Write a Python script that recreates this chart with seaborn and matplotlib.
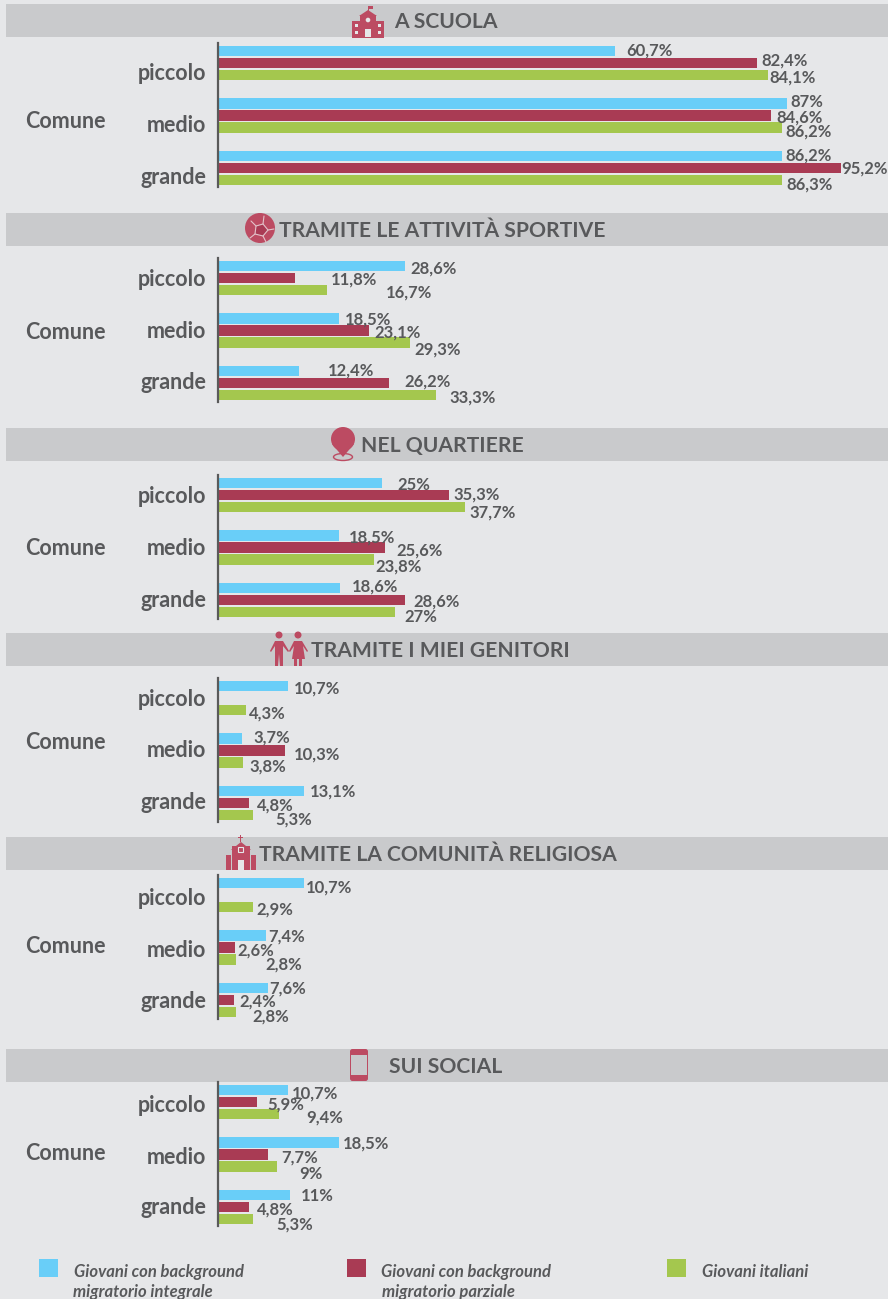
import pandas as pd
import matplotlib
matplotlib.use('Agg')
import matplotlib.pyplot as plt
from matplotlib.patches import Rectangle, Circle, Polygon, Ellipse, FancyBboxPatch
import seaborn as sns

sns.set_theme(style='white')
plt.rcParams['font.family'] = ['Lato', 'DejaVu Sans']

sizes = ['piccolo', 'medio', 'grande']
groups = ['integrale', 'parziale', 'italiani']
colors = ['#69CEF8', '#A93B54', '#A4C74E']
titles = ['A SCUOLA', 'TRAMITE LE ATTIVITÀ SPORTIVE', 'NEL QUARTIERE',
          'TRAMITE I MIEI GENITORI', 'TRAMITE LA COMUNITÀ RELIGIOSA', 'SUI SOCIAL']

# bar lengths
scuola_int = [60.7, 87, 86.2]
scuola_par = [82.4, 84.6, 95.2]
scuola_ita = [84.1, 86.2, 86.3]
sport_int = [28.6, 18.5, 12.4]
sport_par = [11.8, 23.1, 26.2]
sport_ita = [16.7, 29.3, 33.3]
quart_int = [25, 18.5, 18.6]
quart_par = [35.3, 25.6, 28.6]
quart_ita = [37.7, 23.8, 27]
genit_int = [10.7, 3.7, 13.1]
genit_par = [None, 10.3, 4.8]
genit_ita = [4.3, 3.8, 5.3]
relig_int = [13.1, 7.4, 7.6]
relig_par = [None, 2.6, 2.4]
relig_ita = [5.3, 2.8, 2.8]
social_int = [10.7, 18.5, 11]
social_par = [5.9, 7.7, 4.8]
social_ita = [9.4, 9, 5.3]

# value labels, size by size
scuola_lab = ['60,7%', '82,4%', '84,1%', '87%', '84,6%', '86,2%', '86,2%', '95,2%', '86,3%']
sport_lab = ['28,6%', '11,8%', '16,7%', '18,5%', '23,1%', '29,3%', '12,4%', '26,2%', '33,3%']
quart_lab = ['25%', '35,3%', '37,7%', '18,5%', '25,6%', '23,8%', '18,6%', '28,6%', '27%']
genit_lab = ['10,7%', None, '4,3%', '3,7%', '10,3%', '3,8%', '13,1%', '4,8%', '5,3%']
relig_lab = ['10,7%', None, '2,9%', '7,4%', '2,6%', '2,8%', '7,6%', '2,4%', '2,8%']
social_lab = ['10,7%', '5,9%', '9,4%', '18,5%', '7,7%', '9%', '11%', '4,8%', '5,3%']

panels = [
    (scuola_int, scuola_par, scuola_ita, scuola_lab),
    (sport_int, sport_par, sport_ita, sport_lab),
    (quart_int, quart_par, quart_ita, quart_lab),
    (genit_int, genit_par, genit_ita, genit_lab),
    (relig_int, relig_par, relig_ita, relig_lab),
    (social_int, social_par, social_ita, social_lab),
]

# label offsets from the bar end, in pixels (right, down)
label_dx = [[11, 4, 1, 3, 5, 4, 4, 1, 4],
            [5, 36, 59, 6, 5, 5, 29, 15, 14],
            [16, 5, 5, 10, 11, 2, 12, 8, 10],
            [6, 0, 3, 11, 8, 7, 6, 8, 23],
            [2, 0, 4, 2, 2, 29, 2, 6, 16],
            [4, 11, 27, 4, 13, 22, 11, 8, 24]]
label_dy = [[0, -2, 2, -1, 2, 4, 0, 0, 4],
            [3, 2, 2, 1, 2, 7, 0, -2, 2],
            [2, 0, 5, 2, 3, 7, -1, 1, 5],
            [3, 0, 3, -1, 4, 4, 1, 2, 4],
            [5, 0, 2, 1, 3, 5, 1, 1, 4],
            [4, 3, 3, 1, 3, 7, 1, 2, 5]]

W, H = 888, 1299
TEXT = '#58595B'
RED = '#BC4B62'
BG = '#E6E7E9'
band_top = [4, 213, 428, 633, 837, 1049]
title_x = [446, 442, 442, 440, 438, 446]
axis_top = [43, 258, 475, 678, 875, 1082]
comune_y = [121, 332, 548, 742, 946, 1153]
size_y = [[73, 125, 177], [279, 331, 382], [496, 548, 600],
          [699, 750, 802], [898, 950, 1001], [1105, 1157, 1208]]

fig = plt.figure(figsize=(W / 100, H / 100), dpi=100, facecolor=BG)

# overlay in pixel coordinates for bands, texts and icons
bg = fig.add_axes([0, 0, 1, 1])
bg.set_xlim(0, W)
bg.set_ylim(H, 0)
bg.axis('off')

for i, title in enumerate(titles):
    bg.add_patch(Rectangle((6, band_top[i]), W - 6, 33, color='#C9CACC', lw=0))
    bg.text(title_x[i], band_top[i] + 18, title, ha='center', va='center',
            fontsize=15.2, fontweight='bold', color=TEXT)
    bg.text(25, comune_y[i], 'Comune', ha='left', va='center',
            fontsize=15.5, fontweight='bold', color=TEXT)
    for name, y in zip(sizes, size_y[i]):
        bg.text(206, y, name, ha='right', va='center',
                fontsize=15.5, fontweight='bold', color=TEXT)


def add(p):
    bg.add_patch(p)


# school
add(Rectangle((352, 21), 32, 17, color=RED, lw=0))
add(Rectangle((360, 15), 16, 23, color=RED, lw=0))
add(Polygon([(359, 16), (368, 10), (377, 16)], color=RED, lw=0))
add(Rectangle((367.5, 6), 1, 6, color=RED, lw=0))
add(Rectangle((368, 6), 5, 3, color=RED, lw=0))
add(Circle((368, 20), 2.3, color=BG, lw=0))
add(Rectangle((365, 29), 6, 8, color=BG, lw=0))
for wx in (355, 378):
    for wy in (24, 31):
        add(Rectangle((wx, wy), 3, 3, color=BG, lw=0))
# ball
add(Circle((260, 228), 15, color=RED, lw=0))
add(Polygon([(256, 226), (263, 224), (268, 230), (263, 236), (255, 234)],
            fc='#A93B54', ec='#E3C3CA', lw=0.8))
for xs, ys in [([256, 251], [226, 221]), ([263, 264], [224, 216]), ([268, 274], [230, 229]),
               ([263, 266], [236, 242]), ([255, 250], [234, 238])]:
    bg.plot(xs, ys, color='#E3C3CA', lw=0.8)
# pin
add(Circle((343, 439), 12, color=RED, lw=0))
add(Polygon([(332, 444), (354, 444), (343, 457)], color=RED, lw=0))
add(Ellipse((343, 457), 19, 7, fc='none', ec=RED, lw=1))
# parents
add(Circle((279, 635), 3.5, color=RED, lw=0))
add(Circle((298, 635), 3.5, color=RED, lw=0))
add(Polygon([(270, 651), (275, 641), (283, 641), (289, 651), (288, 652), (283, 646),
             (283, 666), (280, 666), (279, 654), (278, 666), (275, 666), (275, 646), (271, 652)],
            color=RED, lw=0))
add(Polygon([(289, 651), (294, 641), (302, 641), (308, 651), (307, 652), (303, 646),
             (305, 659), (302, 659), (302, 666), (299, 666), (299, 659), (297, 659), (297, 666),
             (294, 666), (294, 659), (292, 659), (294, 646), (290, 652)], color=RED, lw=0))
# church
add(Rectangle((232, 846), 18, 24, color=RED, lw=0))
add(Polygon([(231, 850), (241, 842), (251, 850)], color=RED, lw=0))
add(Rectangle((226, 855), 5, 15, color=RED, lw=0))
add(Rectangle((251, 855), 5, 15, color=RED, lw=0))
add(Rectangle((240, 835), 1, 7, color=RED, lw=0))
add(Rectangle((238, 837), 5, 1, color=RED, lw=0))
add(Rectangle((238, 860), 6, 10, color=BG, lw=0))
add(Rectangle((238, 847), 5, 5, fc='none', ec=BG, lw=0.8))
# phone
add(FancyBboxPatch((351, 1050), 16, 30, boxstyle='round,pad=1,rounding_size=2.5', color=RED, lw=0))
add(Rectangle((351, 1055), 16, 20, color='#C9CACC', lw=0))

# panels
for i, (vals_int, vals_par, vals_ita, labels) in enumerate(panels):
    ax = fig.add_axes([218 / W, 1 - (axis_top[i] + 144) / H, 670 / W, 144 / H])
    ax.patch.set_alpha(0)
    df = pd.DataFrame({'size': sizes, 'integrale': vals_int, 'parziale': vals_par,
                       'italiani': vals_ita})
    long_df = df.melt(id_vars='size', var_name='group', value_name='pct').dropna()
    sns.barplot(data=long_df, x='pct', y='size', hue='group', order=sizes, hue_order=groups,
                palette=colors, width=0.69, gap=0.15, saturation=1, legend=False,
                linewidth=0, ax=ax)
    ax.set_xlim(0, 670 / 6.54)
    ax.set_ylim(2.36, -0.38)
    ax.set(xlabel='', ylabel='', xticks=[], yticks=[])
    sns.despine(ax=ax, top=True, right=True, bottom=True)
    ax.spines['left'].set_color('#5A5A5A')
    ax.spines['left'].set_linewidth(1.6)

    lengths = [vals_int, vals_par, vals_ita]
    for s in range(3):
        for g in range(3):
            k = s * 3 + g
            if labels[k] is None:
                continue
            ax.annotate(labels[k], xy=(lengths[g][s], s + (g - 1) * 0.23),
                        xytext=(label_dx[i][k], -label_dy[i][k]), textcoords='offset pixels',
                        ha='left', va='center', fontsize=12, fontweight='bold', color=TEXT,
                        annotation_clip=False)

# legend
legend_x = [39, 347, 667]
for x, c in zip(legend_x, colors):
    bg.add_patch(Rectangle((x, 1259), 19, 18, color=c, lw=0))
legend_style = dict(ha='left', va='center', fontsize=12, fontweight='bold', style='italic', color=TEXT)
bg.text(74, 1272, 'Giovani con background', **legend_style)
bg.text(73, 1292, 'migratorio integrale', **legend_style)
bg.text(381, 1272, 'Giovani con background', **legend_style)
bg.text(382, 1292, 'migratorio parziale', **legend_style)
bg.text(702, 1272, 'Giovani italiani', **legend_style)

plt.savefig('out.png', dpi=100, facecolor=BG)
